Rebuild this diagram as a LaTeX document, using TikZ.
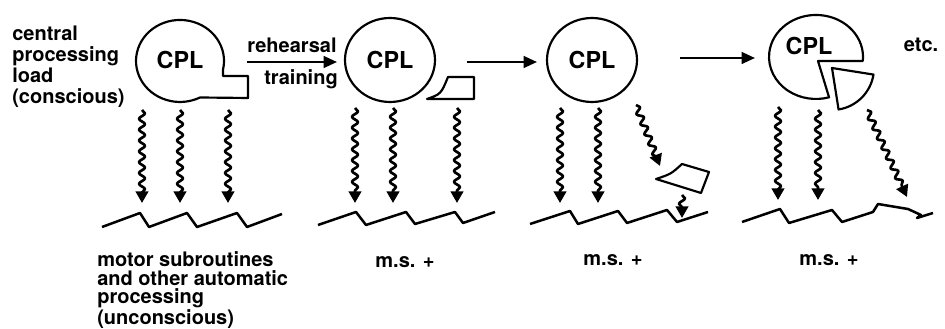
\documentclass[tikz,border=0pt]{standalone}
\usepackage{fontspec}
\setmainfont{TeX Gyre Heros}
\usepackage{tikz}
\usetikzlibrary{arrows.meta,decorations.pathmorphing,shapes.geometric}

\begin{document}
\begin{tikzpicture}[x=0.6pt, y=-0.6pt, line join=round,
  txt/.style={font=\bfseries\fontsize{12}{12.6}\selectfont, inner sep=0pt, align=left},
  lowtxt/.style={txt, font=\bfseries\fontsize{12}{11.3}\selectfont},
  cpl/.style={font=\bfseries\fontsize{14}{14}\selectfont, inner sep=0pt},
  ring/.style={draw, ellipse, line width=1.3pt, minimum width=54pt, minimum height=50.4pt},
  outline/.style={draw, line width=1.3pt},
  squig/.style={line width=1.6pt, -{Triangle[width=7.5pt,length=7pt]}, decorate,
    decoration={snake, amplitude=1.8pt, segment length=6.5pt, post length=5pt}},
  push/.style={line width=1.3pt, -{Triangle[width=7pt,length=8pt]}},
  saw/.style={line width=1.5pt}]

\useasboundingbox (0,0) rectangle (945,329);

% Stage 1: load with tab
\draw[outline] (223,69.7) arc[start angle=12.3, end angle=-297, x radius=44, y radius=41]
  -- (248,98) -- (248,76) -- (223,76) -- cycle;
\node[cpl] (c1) at (180,60) {CPL};
\node[txt, anchor=north west] (conscious) at (12,26) {central\\processing\\load\\(conscious)};

% Stage 2: tab split off
\node[ring, cpl] (c2) at (390,60) {CPL};
\draw[outline] (448,77) -- (474,77) -- (474,99) -- (427,99) .. controls (441,94) .. (448,77) -- cycle;

% Stage 3: piece handed down
\node[ring, cpl] (c3) at (592,60) {CPL};
\draw[outline] (656,179) .. controls (671,174) .. (682,164) -- (709,172) -- (701,193) -- cycle;

% Stage 4: wedge taken out
\draw[outline] (818,61) -- (862.8,61) arc[start angle=5.5, end angle=-286.1, x radius=47, y radius=42] -- cycle;
\draw[outline] (832,68) -- ++(9:42) arc[start angle=9, end angle=81, radius=42] -- cycle;
\node[cpl] (c4) at (809,46) {CPL};
\node[txt] (etc) at (921,45) {etc.};

% Stage arrows
\coordinate (r1) at (247,62); \coordinate (r2) at (337,62);
\coordinate (s1) at (467,62); \coordinate (s2) at (537,62);
\coordinate (t1) at (680,58); \coordinate (t2) at (755,58);
\draw[push] (r1) -- (r2);
\draw[push] (s1) -- (s2);
\draw[push] (t1) -- (t2);
\node[txt] (reh) at (292,45) {rehearsal};
\node[txt] (trn) at (301,79) {training};

% Wavy arrows
\foreach \sx/\sy/\ex/\ey [count=\i] in {142/110/142/203, 180/110/180/203, 228/110/228/203,
    355/108/355/203, 393/108/393/203, 457/108/457/203,
    560/108/560/203, 598/108/598/203, 636/105/660/166, 682/195/682/218,
    778/107/778/200, 818/110/818/200, 867/110/907/197}{
  \coordinate (w\i s) at (\sx,\sy);
  \coordinate (w\i e) at (\ex,\ey);
  \draw[squig] (w\i s) -- (w\i e);
}

% Motor subroutines
\draw[saw] (102,227) -- (140,213) -- (149,227) -- (187,213) -- (197,227) -- (237,213) -- (247,227) -- (282,214);
\draw[saw] (318,225) -- (356,212) -- (366,225) -- (406,212) -- (415,224) -- (455,212) -- (463,223) -- (495,212);
\draw[saw] (530,224) -- (570,211) -- (578,224) -- (618,211) -- (627,223) -- (667,210) -- (677,222) -- (708,212);
\draw[saw] (742,222) -- (780,209) -- (789,223) -- (832,210) -- (842,222) -- (873,212) -- (878,204)
  -- (908,209) -- (921,215) -- (917,218) -- (933,213);

\node[lowtxt, anchor=north west] (uncon) at (97,251)
  {motor subroutines\\and other automatic\\processing\\(unconscious)};
\node[txt] (ms2) at (405,262) {m.s. +};
\node[txt] (ms3) at (613,260) {m.s. +};
\node[txt] (ms4) at (829,260) {m.s. +};

\end{tikzpicture}
\end{document}
